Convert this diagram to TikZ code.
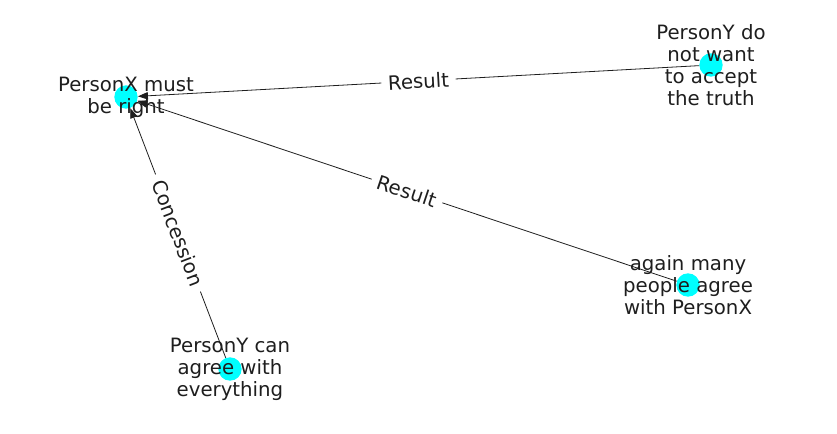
\documentclass[tikz,border=0pt]{standalone}
\usepackage{fontspec}
\setmainfont{DejaVu Sans}
\usetikzlibrary{arrows.meta,positioning}
\definecolor{nodecyan}{RGB}{0,255,255}
\definecolor{inkgray}{RGB}{30,30,30}

\begin{document}
\begin{tikzpicture}[
    x=0.75pt, y=-0.75pt,
    dot/.style={circle, fill=nodecyan, minimum size=17.5pt, inner sep=0pt},
    personlbl/.style={align=center, font=\fontsize{14.8}{16.4}\selectfont, text=inkgray},
    rel/.style={fill=white, inner xsep=5pt, inner ysep=2.5pt, sloped, font=\fontsize{14.8}{16}\selectfont, text=inkgray},
    arr/.style={-{Triangle[length=7.5pt, width=5.5pt]}, line width=0.6pt, inkgray}
  ]
    \useasboundingbox (0,0) rectangle (837,434);
    % Nodes
    \node[dot] (mustright) at (126, 97) {};
    \node[dot] (truth) at (711, 65) {};
    \node[dot] (agree) at (688, 285) {};
    \node[dot] (every) at (230, 369) {};
    % Edges
    \draw[arr] (truth) -- node[rel]{Result} (mustright);
    \draw[arr] (agree) -- node[rel]{Result} (mustright);
    \draw[arr] (every) -- node[rel]{Concession} (mustright);
    % Labels
    \node[personlbl] (mustrightlbl) at (mustright) {PersonX must\\be right};
    \node[personlbl] (truthlbl) at (truth) {PersonY do\\not want\\to accept\\the truth};
    \node[personlbl] (agreelbl) at (agree) {again many\\people agree\\with PersonX};
    \node[personlbl] (everylbl) at (every) {PersonY can\\agree with\\everything};
\end{tikzpicture}
\end{document}
